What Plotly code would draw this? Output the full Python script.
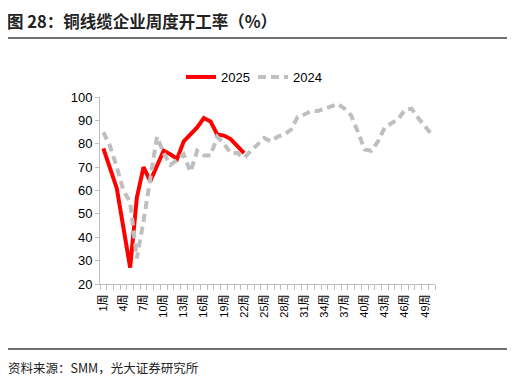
import plotly.graph_objects as go

weeks = list(range(1, 51))
tick_weeks = weeks[::3]
tick_text = [f"{w}周" for w in tick_weeks]

y2025 = [78, 70, 61, 44, 27, 57, 70, 64, 71, 77, 75.5, 73.5, 81, 84, 87, 91, 89.5, 84, 83.5, 82, 79, 76]
y2024 = [85, 79, 70, 60, 55, 31, 47, 64, 83, 76, 71, 73, 75.5, 68, 77, 75, 75, 83, 80, 76,
         76, 74, 77, 80, 82.5, 81, 83, 84, 86, 91.5, 92.5, 94, 94, 95, 96, 97, 95, 92, 85, 77.5,
         77, 81, 87, 89, 90.5, 94.5, 95, 91, 87.5, 84]

# page body has an 8px margin; lay out in reference-pixel coordinates minus that offset
OFF = 8
W, H = 515 - OFF, 381 - OFF
L, R, T, B = 100 - OFF, 435 - OFF, 97 - OFF, 284 - OFF

def px(x):
    return (x - OFF - L) / (R - L)

def py(y):
    return (B - (y - OFF)) / (B - T)

fig = go.Figure()
fig.add_trace(go.Scatter(x=weeks[:len(y2025)], y=y2025, name="2025", mode="lines",
                         line=dict(color="#ff0000", width=4), legend="legend"))
fig.add_trace(go.Scatter(x=weeks[:len(y2024)], y=y2024, name="2024", mode="lines",
                         line=dict(color="#bfbfbf", width=4, dash="8px,5px"), legend="legend2"))

font = "Liberation Sans, Arial, Noto Sans CJK SC, sans-serif"
leg_common = dict(orientation="h", xanchor="left", yanchor="middle",
                  font=dict(size=13, family=font), bgcolor="rgba(0,0,0,0)")
fig.update_layout(
    width=W, height=H,
    margin=dict(l=L, r=W - R, t=T, b=H - B),
    plot_bgcolor="white", paper_bgcolor="white",
    font=dict(family=font, color="#000000", size=13),
    showlegend=True,
    legend=dict(x=px(181), y=py(77), **leg_common),
    legend2=dict(x=px(253), y=py(77), **leg_common),
    xaxis=dict(range=[0.5, 50.5], tickmode="array", tickvals=tick_weeks, ticktext=tick_text,
               tickangle=-90, ticks="", showgrid=False, zeroline=False,
               showline=True, linecolor="#bfbfbf", linewidth=1, ticklabelstandoff=5,
               tickfont=dict(size=11, family="Liberation Sans, Noto Sans CJK SC, sans-serif"),
               minor=dict(tickmode="linear", tick0=0.5, dtick=1, ticks="outside",
                          ticklen=5, tickcolor="#bfbfbf", tickwidth=1, showgrid=False)),
    yaxis=dict(range=[20, 100], tickmode="linear", tick0=20, dtick=10, ticks="outside",
               ticklen=4, tickcolor="#bfbfbf", showgrid=False, zeroline=False,
               showline=True, linecolor="#bfbfbf", linewidth=1,
               tickfont=dict(size=13, family=font)),
)

fig.add_annotation(x=px(6), y=py(OFF), xref="paper", yref="paper", xanchor="left", yanchor="top",
                   text="<b>图 28：铜线缆企业周度开工率（%）</b>", showarrow=False, borderpad=0,
                   font=dict(size=16.5, family="Noto Sans CJK SC, sans-serif", color="#222222"))
fig.add_annotation(x=px(6), y=py(367), xref="paper", yref="paper", xanchor="left", yanchor="middle",
                   text="资料来源：SMM，光大证券研究所", showarrow=False,
                   font=dict(size=12.5, family="Noto Sans CJK SC, sans-serif", color="#222222"))
for yy in (38, 349):
    fig.add_shape(type="line", xref="paper", yref="paper", x0=px(OFF), x1=px(510), y0=py(yy), y1=py(yy),
                  line=dict(color="#707070", width=2))

fig.write_html("out.html")
